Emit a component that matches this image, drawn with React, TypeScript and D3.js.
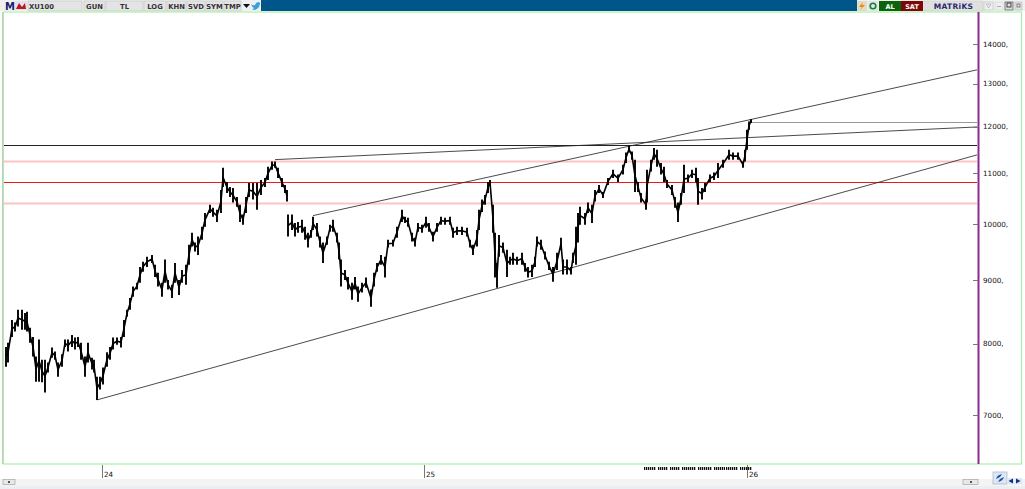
import React from "react";
import * as d3 from "d3";

const W = 1025, H = 489;

// [session, high, low]
const barsBeforeGap: [number, number, number][] = [
[1,7950,7660],[3,8010,7720],[7,8360,8100],[10,8320,8180],[13,8520,8260],[17,8520,8210],[20,8470,8210],[22,8490,8180],[25,8240,8010],[28,8100,7810],
[31,7810,7450],[34,8060,7450],[37,7760,7440],[40,7760,7300],[43,7720,7580],[47,7940,7790],[50,7880,7760],[53,7720,7520],[57,7840,7660],[60,8060,7950],
[63,8060,7880],[67,8130,7950],[70,8090,7910],[73,8100,7950],[76,8010,7760],[80,7810,7520],[83,8010,7720],[87,7790,7620],[89,7760,7580],[92,7520,7200],
[95,7520,7340],[98,7650,7410],[102,7870,7660],[105,7950,7760],[108,8090,7910],[112,8090,7980],[116,8100,7940],[119,8360,8100],[122,8520,8410],[125,8710,8520],
[128,8900,8730],[132,8960,8850],[135,9230,8960],[138,9320,9150],[142,9410,9230],[147,9440,9300],[150,9270,9060],[153,9130,8900],[157,8960,8730],[160,9360,8960],
[163,9010,8850],[167,8930,8710],[170,9300,8960],[174,9010,8760],[177,9180,8960],[181,9270,8930],[184,9620,9270],[187,9840,9590],[190,9660,9500],[193,9770,9440],
[197,9950,9710],[200,10210,9950],[205,10370,10210],[208,10310,10140],[212,10270,10040],[216,10660,10210],[218,11110,10720],[222,10820,10600],[225,10720,10520],[228,10700,10410],
[232,10520,10330],[235,10370,10040],[238,10180,9990],[241,10520,10210],[244,10800,10520],[248,10800,10470],[252,10800,10270],[256,10860,10560],[260,10900,10720],[263,11130,10860],
[267,11240,11070],[270,11240,11110],[273,11110,10900],[277,10900,10720],[280,10760,10600],[282,10660,10430],
];
const barsAfterGap: [number, number, number][] = [
[283,10180,9770],[287,10180,9890],[290,10020,9770],[293,10040,9840],[297,10080,9840],[300,9950,9710],[303,9840,9570],[306,9890,9750],[308,10140,9890],[312,10020,9770],
[315,9770,9570],[318,9660,9300],[322,9770,9620],[325,9990,9860],[328,10080,9860],[332,9840,9660],[334,9660,9360],[336,9360,8900],[340,9180,9010],[343,9060,8850],
[347,8960,8680],[350,9060,8850],[353,8900,8650],[357,8960,8800],[361,9050,8880],[366,8850,8570],[369,9130,8900],[372,9300,9150],[376,9440,9270],[380,9410,9050],
[383,9710,9570],[388,9710,9590],[392,9950,9750],[397,10270,10040],[400,10140,10020],[403,10120,9950],[407,9840,9680],[410,9750,9590],[413,10020,9860],[417,9990,9840],
[421,10140,9930],[424,10020,9860],[428,9860,9680],[432,10020,9860],[436,10140,9990],[440,10120,9990],[445,10140,9990],[448,9930,9750],[452,9950,9800],[457,9950,9800],
[462,9930,9770],[465,9710,9570],[468,9620,9440],[472,9890,9590],[474,10270,9890],[477,10470,10230],[480,10560,10370],[483,10820,10600],[485,10860,10760],[488,10370,9840],
[490,9840,9050],[492,9300,8880],[494,9800,9410],[498,9660,9480],[502,9530,9060],[505,9410,9270],[508,9480,9270],[512,9410,9270],[517,9480,9270],[520,9300,9150],
[523,9230,9050],[527,9270,9060],[530,9410,9230],[532,9770,9590],[536,9710,9530],[540,9500,9360],[544,9320,9180],[548,9230,8980],[552,9480,9180],[556,9750,9530],
[558,9360,9100],[562,9360,9100],[566,9230,9100],[568,9480,9300],[571,9950,9270],[573,10210,9660],[575,10330,9990],[580,10210,9990],[583,10410,10210],[587,10370,10020],
[590,10660,10430],[594,10760,10600],[598,10620,10500],[603,10900,10760],[608,11070,10900],[613,10970,10820],[618,11170,10970],[621,11430,11210],[624,11580,11430],[627,11450,11280],
[630,11280,10620],[633,10820,10620],[636,10600,10410],[641,10470,10270],[642,11070,10410],[646,11280,11030],[649,11530,11280],[652,11490,11130],[656,11210,10970],[659,11130,10820],
[662,10860,10700],[667,10760,10560],[670,10520,10310],[673,10410,10040],[676,10600,10370],[679,11170,10600],[683,10970,10820],[687,11070,10900],[691,11110,10820],[693,10900,10370],
[697,10700,10470],[700,10800,10620],[705,10970,10820],[709,11010,10860],[713,11210,10900],[718,11280,11110],[724,11490,11280],[728,11430,11280],[733,11430,11280],[738,11240,11110],
[740,11490,11240],[742,11930,11490],[744,12110,11930],[746,12170,12080],
];

const priceTicks = [7000, 8000, 9000, 10000, 11000, 12000, 13000, 14000];
const yearTicks: [number, string][] = [[97, "24"], [419, "25"], [742, "26"]];
const lastDaysRuns: [number, number][] = [[639, 651], [653, 663], [665, 675], [677, 691], [693, 707], [709, 720], [721, 733], [735, 747]];

const redLevels = [10820];
const pinkLevels = [11255, 10410];
const blackLevel = 11600;
const lastLevel = { from: 745, to: 972, value: 12100 };

// [session, value, session, value]
const trendLines: [number, number, number, number][] = [
  [92, 7200, 972, 11380],
  [308, 10160, 972, 13340],
  [270, 11280, 972, 11990],
];

const leftButtons: [number, number, string][] = [
  [28, 82, ""], [84, 105, "GUN"], [106, 143, "TL"], [144, 166, "LOG"], [167, 186, "KHN"], [187, 205, "SVD"], [206, 223, "SYM"], [224, 241, "TMP"],
];

const x = d3.scaleLinear().domain([0, 1000]).range([5, 1005]);
const y = d3.scaleLog().domain([7000, 14000]).range([415, 44]);
const snap = (v: number) => Math.round(v) + 0.5;

// line through each session's mid range, which joins the vertical bars
const midLine = d3.line<[number, number, number]>()
  .x(d => x(d[0]))
  .y(d => (y(d[1]) + y(d[2])) / 2);

const uiFont = "'DejaVu Sans', sans-serif";

export default function App() {
  const plotL = 3, plotR = 1021, plotT = 12, plotB = 464;
  return (
    <svg width={W} height={H} viewBox={`0 0 ${W} ${H}`} style={{ position: "absolute", left: 0, top: 0, display: "block", background: "#fff" }}>
      {/* toolbar */}
      <rect x={0} y={0} width={W} height={11} fill="#f0f0f0" />
      <rect x={261} y={0} width={596} height={11} fill="#00568a" />
      <rect x={15} y={1} width={12} height={9} fill="#dfe3ee" />
      <path d="M16 9 L19 3 L22 7 L25 3 L26 9 Z" fill="#c01818" />
      <text x={5} y={9.5} fontFamily={uiFont} fontSize={10} fontWeight={700} fill="#1c1c6e">M</text>
      {leftButtons.map(([a, b, t]) => (
        <g key={a}>
          <rect x={a} y={1} width={b - a} height={10} fill="#e4e4e4" stroke="#c4c4c4" strokeWidth={0.6} />
          <text x={(a + b) / 2} y={9} textAnchor="middle" fontFamily={uiFont} fontSize={6.8} fontWeight={700} fill="#333">{t}</text>
        </g>
      ))}
      <text x={29} y={9} fontFamily={uiFont} fontSize={6.8} fontWeight={700} fill="#333">XU100</text>
      <path d="M243 4 H250 L246.5 8 Z" fill="#111" />
      <path d="M251 4 Q253 6 255 5 Q256 2 259 2 L260 3 Q260 8 255 10 Q253 10 252 9 Q254 9 254 8 Q252 7 251 4 Z" fill="#3aa0dc" />
      <rect x={857} y={1} width={10} height={10} fill="#e0dcc8" />
      <path d="M863 2 L859 7 H862 L860 10 L865 5 H862 Z" fill="#e88a10" />
      <rect x={868} y={1} width={10} height={10} fill="#e4e4e4" />
      <circle cx={873} cy={6} r={2.8} fill="none" stroke="#128040" strokeWidth={1.6} />
      <rect x={879} y={1} width={22} height={10} fill="#0b640b" />
      <text x={890} y={9} textAnchor="middle" fontFamily={uiFont} fontSize={6.5} fontWeight={700} fill="#fff">AL</text>
      <rect x={901} y={1} width={22} height={10} fill="#7e0808" />
      <text x={912} y={9} textAnchor="middle" fontFamily={uiFont} fontSize={6.5} fontWeight={700} fill="#fff">SAT</text>
      <rect x={924} y={1} width={59} height={10} fill="#e0e0e0" stroke="#c8c8c8" strokeWidth={0.5} />
      <text x={953.5} y={9} textAnchor="middle" fontFamily={uiFont} fontSize={7.5} fontWeight={700} fill="#28286e" letterSpacing={0.3}>MATRiKS</text>
      <rect x={984} y={2} width={9} height={8} fill="#f0f0f0" stroke="#bbb" strokeWidth={0.6} />
      <path d="M986 4 H991 L988.5 8 Z" fill="none" stroke="#aaa" strokeWidth={0.7} />
      <rect x={995} y={2} width={8} height={8} fill="#eee" stroke="#ccc" strokeWidth={0.5} />
      <rect x={997} y={6} width={4} height={1} fill="#aaa" />
      <rect x={1005} y={2} width={8} height={8} fill="#ddd" stroke="#666" strokeWidth={0.8} />
      <rect x={1007} y={3} width={4} height={4} fill="none" stroke="#222" strokeWidth={0.8} />
      <rect x={1015} y={2} width={7} height={8} fill="#e4e4e4" stroke="#aaa" strokeWidth={0.5} />
      <rect x={1017} y={4} width={3} height={3} fill="none" stroke="#666" strokeWidth={0.8} />

      {/* plot frame */}
      <rect x={plotL + 0.5} y={plotT} width={plotR - plotL} height={plotB - plotT} fill="#fff" stroke="#a8f0a8" strokeWidth={1.2} />
      <line x1={2.5} x2={2.5} y1={12} y2={464} stroke="#c8c8c8" strokeWidth={1} />

      {/* levels */}
      {pinkLevels.map(v => <line key={v} x1={4} x2={977} y1={snap(y(v))} y2={snap(y(v))} stroke="#fdc4c4" strokeWidth={2} />)}
      {redLevels.map(v => <line key={v} x1={4} x2={977} y1={snap(y(v))} y2={snap(y(v))} stroke="#f01818" strokeWidth={1} />)}
      <line x1={4} x2={977} y1={snap(y(blackLevel))} y2={snap(y(blackLevel))} stroke="#222" strokeWidth={1} />
      <line x1={x(lastLevel.from)} x2={x(lastLevel.to)} y1={snap(y(lastLevel.value))} y2={snap(y(lastLevel.value))} stroke="#999" strokeWidth={1} />

      {/* trend lines */}
      {trendLines.map(([a, va, b, vb], i) => (
        <line key={i} x1={x(a)} y1={y(va)} x2={x(b)} y2={y(vb)} stroke="#2a2a2a" strokeWidth={0.85} />
      ))}

      {/* price bars */}
      {[barsBeforeGap, barsAfterGap].map((bars, i) => (
        <g key={i}>
          <path d={midLine(bars) as string} fill="none" stroke="#000" strokeWidth={1.6} />
          {bars.map(([s, hi, lo]) => (
            <line key={s} x1={x(s)} x2={x(s)} y1={y(hi)} y2={y(lo)} stroke="#000" strokeWidth={1.9} />
          ))}
        </g>
      ))}

      {/* price axis */}
      <line x1={978.5} x2={978.5} y1={12} y2={464} stroke="#8c2a90" strokeWidth={2} />
      {priceTicks.map(v => (
        <g key={v}>
          <line x1={973} x2={978} y1={snap(y(v))} y2={snap(y(v))} stroke="#777" strokeWidth={1} />
          <text x={983} y={y(v) + 2.5} fontFamily={uiFont} fontSize={7.2} fill="#111">{`${v},`}</text>
        </g>
      ))}

      {/* time axis */}
      {yearTicks.map(([s, t]) => (
        <g key={t}>
          <line x1={x(s) + 0.5} x2={x(s) + 0.5} y1={465} y2={478} stroke="#777" strokeWidth={1} />
          <text x={x(s) + 2} y={477} fontFamily={uiFont} fontSize={7.2} fill="#111">{t}</text>
        </g>
      ))}
      {lastDaysRuns.map(([a, b]) => (
        <line key={a} x1={x(a)} x2={x(b)} y1={468.5} y2={468.5} stroke="#111" strokeWidth={3} strokeDasharray="1.3 0.7" />
      ))}

      {/* scroll bar */}
      <rect x={0} y={479} width={W} height={7} fill="#f3f3f3" />
      <rect x={0} y={486} width={W} height={3} fill="#e9eff4" />
      <rect x={3} y={479.5} width={12} height={5} fill="#e8e8e8" stroke="#999" strokeWidth={0.6} />
      <rect x={8} y={481} width={2} height={2} fill="#555" />
      <rect x={963} y={479.5} width={15} height={5} fill="#e8e8e8" stroke="#999" strokeWidth={0.6} />
      <rect x={970} y={481} width={2} height={2} fill="#555" />
      <rect x={993} y={472} width={14} height={12} fill="#dde6f2" stroke="#b0bccc" strokeWidth={0.8} />
      <path d="M996 479 Q997 475 1002 474 L1000 477 Z M1004 477 Q1003 481 998 482 L1000 479 Z" fill="#1c50a8" />
      <rect x={1007} y={478} width={7} height={6} fill="#e0e8f4" />
      <rect x={1015} y={478} width={7} height={6} fill="#e0e8f4" />
      <path d="M1013 478.5 L1008.5 481 L1013 483.5 Z" fill="#10308a" />
      <path d="M1016 478.5 L1020.5 481 L1016 483.5 Z" fill="#10308a" />
    </svg>
  );
}
